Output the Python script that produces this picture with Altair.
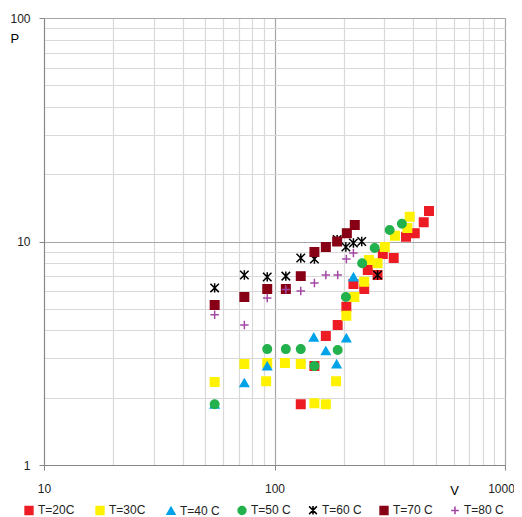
import altair as alt
import pandas as pd

series = ["T=20C", "T=30C", "T=40 C", "T=50 C", "T=60 C", "T=70 C", "T=80 C"]

v20 = [130, 149, 167, 188, 205, 220, 245, 254, 280, 295, 329, 372, 406, 444, 468]
p20 = [1.87, 2.77, 3.78, 4.23, 5.1, 6.45, 6.13, 7.45, 7.08, 8.79, 8.43, 10.5, 10.9, 12.2, 13.7]

v30 = [55, 74, 92, 93, 111, 130, 149, 167, 185, 205, 222, 245, 257, 280, 301, 333, 377, 386]
p30 = [2.35, 2.83, 2.37, 2.86, 2.86, 2.83, 1.89, 1.87, 2.37, 4.65, 5.65, 6.6, 8.27, 8.0, 9.45, 10.6, 11.5, 12.9]

v40 = [55, 74, 93, 148, 167, 186, 205, 220]
p40 = [1.87, 2.33, 2.77, 3.73, 3.24, 2.83, 3.70, 6.94]

v50 = [55, 93, 112, 130, 149, 188, 204, 240, 272, 316, 357]
p50 = [1.87, 3.3, 3.3, 3.3, 2.77, 3.27, 5.65, 8.0, 9.35, 11.25, 12.0]

v60 = [55, 74, 93, 112, 130, 149, 167, 187, 204, 220, 239, 280]
p60 = [6.2, 7.08, 6.94, 7.0, 8.43, 8.35, 9.45, 10.2, 9.45, 9.85, 10.0, 7.08]

v70 = [55, 74, 93, 112, 130, 149, 167, 187, 206, 223]
p70 = [5.2, 5.65, 6.13, 6.13, 7.0, 8.97, 9.45, 10.0, 10.9, 11.85]

v80 = [55, 74, 93, 112, 130, 149, 167, 188, 205, 220]
p80 = [4.7, 4.23, 5.59, 6.1, 6.0, 6.52, 7.08, 7.08, 8.35, 8.88]

x_ticks = [10, 20, 30, 40, 50, 60, 70, 80, 90, 100, 200, 300, 400, 500, 600, 700, 800, 900, 1000]
y_ticks = [1, 2, 3, 4, 5, 6, 7, 8, 9, 10, 20, 30, 40, 50, 60, 70, 80, 90, 100]

fill_colors = ["#ED1C24", "#FFF200", "#00A2E8", "#22B14C", "transparent", "#880015", "transparent"]
stroke_colors = ["#ED1C24", "#FFF200", "#00A2E8", "#22B14C", "#000000", "#880015", "#A349A4"]
shapes = ["square", "square", "triangle-up", "circle",
          "M-1,-1L1,1M-1,1L1,-1M0,-1.1L0,1.1", "square", "M-1,0L1,0M0,-1L0,1"]

rows = []
for name, vs, ps in zip(series, [v20, v30, v40, v50, v60, v70, v80],
                        [p20, p30, p40, p50, p60, p70, p80]):
    for v, p in zip(vs, ps):
        rows.append({"T": name, "V": v, "P": p})
df = pd.DataFrame(rows)

FONT = "Liberation Sans"
major_test = "datum.value == 1 || datum.value == 10 || datum.value == 100 || datum.value == 1000"

legend = alt.Legend(
    orient="none", legendX=-21, legendY=486, direction="horizontal", title=None,
    symbolSize=60, symbolStrokeWidth=1.6, labelFontSize=12, labelFont=FONT,
    labelColor="#222222", labelOffset=3, columnPadding=14, gridAlign="all",
)

chart = alt.Chart(df).mark_point(filled=False, opacity=1, strokeWidth=1.5, size=72).encode(
    x=alt.X("V:Q", scale=alt.Scale(type="log", domain=[10, 1000], nice=False),
            axis=alt.Axis(values=x_ticks, title="V", titleAngle=0, titleX=410, titleY=25,
                          titleAlign="center", titleBaseline="middle", titleFontWeight="normal",
                          titleFontSize=13, titleFont=FONT,
                          labelExpr="(datum.value == 10 || datum.value == 100 || datum.value == 1000) ? format(datum.value, 'd') : ''",
                          labelFont=FONT, labelFontSize=12, labelColor="#222222",
                          labelPadding=13, tickSize=5, labelFlush=False, labelOverlap=False,
                          labelOffset={"condition": {"test": "datum.value == 1000", "value": -4}, "value": 0},
                          domainColor="#868686",
                          tickColor={"condition": {"test": major_test, "value": "#868686"}, "value": "transparent"},
                          gridColor={"condition": {"test": major_test, "value": "#A6A6A6"}, "value": "#D9D9D9"},
                          gridWidth=1.2)),
    y=alt.Y("P:Q", scale=alt.Scale(type="log", domain=[1, 100], nice=False),
            axis=alt.Axis(values=y_ticks, title="P", titleAngle=0, titleX=-34, titleY=20,
                          titleAlign="left", titleBaseline="middle", titleFontWeight="normal",
                          titleFontSize=13, titleFont=FONT,
                          labelExpr="(datum.value == 1 || datum.value == 10 || datum.value == 100) ? format(datum.value, 'd') : ''",
                          labelFont=FONT, labelFontSize=12, labelColor="#222222",
                          labelPadding=9, tickSize=5, labelOverlap=False,
                          domainColor="#868686",
                          tickColor={"condition": {"test": major_test, "value": "#868686"}, "value": "transparent"},
                          gridColor={"condition": {"test": major_test, "value": "#A6A6A6"}, "value": "#D9D9D9"},
                          gridWidth=1.2)),
    fill=alt.Fill("T:N", scale=alt.Scale(domain=series, range=fill_colors), legend=legend),
    stroke=alt.Stroke("T:N", scale=alt.Scale(domain=series, range=stroke_colors), legend=legend),
    shape=alt.Shape("T:N", scale=alt.Scale(domain=series, range=shapes), legend=legend),
).properties(
    width=461, height=447,
    autosize=alt.AutoSizeParams(type="none"),
    padding={"left": 36, "top": 10, "right": 9, "bottom": 52},
).configure_view(stroke=None).configure(background="white")

chart.save("out.html", embed_options={"renderer": "svg", "actions": False})
